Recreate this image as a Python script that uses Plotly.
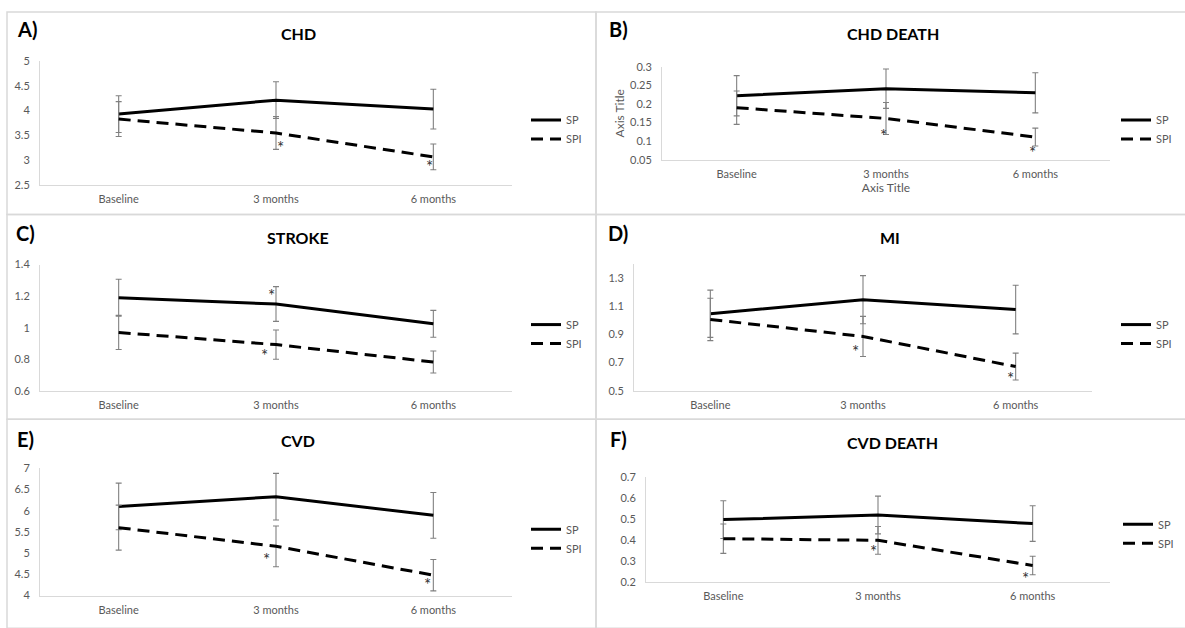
import plotly.graph_objects as go

W, H = 1185, 628

categories = ["Baseline", "3 months", "6 months"]

# Panel titles and letters
panel_letters = ["A)", "B)", "C)", "D)", "E)", "F)"]
panel_titles = ["CHD", "CHD DEATH", "STROKE", "MI", "CVD", "CVD DEATH"]

# Series values (SP solid, SPI dashed) and symmetric error sizes
chd_sp = [3.93, 4.21, 4.03]
chd_sp_err = [0.37, 0.37, 0.40]
chd_spi = [3.83, 3.55, 3.07]
chd_spi_err = [0.35, 0.33, 0.26]

chddeath_sp = [0.222, 0.241, 0.230]
chddeath_sp_err = [0.054, 0.053, 0.054]
chddeath_spi = [0.190, 0.161, 0.111]
chddeath_spi_err = [0.045, 0.043, 0.024]

stroke_sp = [1.19, 1.15, 1.025]
stroke_sp_err = [0.117, 0.11, 0.085]
stroke_spi = [0.97, 0.893, 0.783]
stroke_spi_err = [0.108, 0.093, 0.07]

mi_sp = [1.045, 1.145, 1.075]
mi_sp_err = [0.167, 0.17, 0.172]
mi_spi = [1.005, 0.885, 0.672]
mi_spi_err = [0.15, 0.142, 0.095]

cvd_sp = [6.10, 6.33, 5.89]
cvd_sp_err = [0.55, 0.55, 0.54]
cvd_spi = [5.60, 5.16, 4.48]
cvd_spi_err = [0.53, 0.48, 0.37]

cvddeath_sp = [0.497, 0.519, 0.478]
cvddeath_sp_err = [0.09, 0.09, 0.085]
cvddeath_spi = [0.406, 0.398, 0.278]
cvddeath_spi_err = [0.07, 0.066, 0.044]

# y-axis ranges / tick steps
y_ranges = [[2.5, 5], [0.05, 0.3], [0.6, 1.4], [0.5, 1.4], [4, 7], [0.2, 0.7]]
y_tick0 = [2.5, 0.05, 0.6, 0.5, 4, 0.2]
y_dtick = [0.5, 0.05, 0.2, 0.2, 0.5, 0.1]

# significance asterisks: (category index, y value, horizontal offset px)
stars = [
    [(1, 3.33, 4), (2, 2.95, -4)],
    [(1, 0.127, -3), (2, 0.08, -3)],
    [(1, 1.23, -5), (1, 0.85, -12)],
    [(1, 0.81, -8), (2, 0.615, -5)],
    [(1, 4.95, -10), (2, 4.35, -6)],
    [(1, 0.365, -5), (2, 0.236, -7)],
]

series = [
    (chd_sp, chd_sp_err, chd_spi, chd_spi_err),
    (chddeath_sp, chddeath_sp_err, chddeath_spi, chddeath_spi_err),
    (stroke_sp, stroke_sp_err, stroke_spi, stroke_spi_err),
    (mi_sp, mi_sp_err, mi_spi, mi_spi_err),
    (cvd_sp, cvd_sp_err, cvd_spi, cvd_spi_err),
    (cvddeath_sp, cvddeath_sp_err, cvddeath_spi, cvddeath_spi_err),
]

# ---------------- layout geometry (pixels) ----------------
plot_boxes = [  # x0, x1, ytop, ybottom
    (40, 512, 55, 182),
    (662, 1110, 61, 156),
    (40, 512, 263, 392),
    (634, 1092, 262, 392),
    (40, 512, 471, 601),
    (646, 1110, 480, 587),
]
title_pos = [(298, 27), (893, 27), (298, 235), (890, 235), (298, 443), (893, 445)]
letter_pos = [(27, 22), (618, 22), (25, 231), (618, 231), (25, 441), (618, 441)]
legend_pos = [(526, 125), (1116, 125), (526, 334), (1116, 334), (526, 543), (1118, 538)]

FONT = "Lato, Carlito, Calibri, sans-serif"
GRAY = "#595959"
AXIS = "#d9d9d9"
ERR = "#808080"

fig = go.Figure()
layout = dict(
    width=W, height=H,
    margin=dict(l=0, r=0, t=0, b=0),
    paper_bgcolor="white", plot_bgcolor="white",
    font=dict(family=FONT, color=GRAY, size=11),
    showlegend=True,
)

annotations = []
shapes = []

for i in range(6):
    n = "" if i == 0 else str(i + 1)
    xa, ya = "x" + n, "y" + n
    sp, sperr, spi, spierr = series[i]
    lg = "legend" + ("" if i == 0 else str(i + 1))
    fig.add_trace(go.Scatter(
        x=categories, y=sp, mode="lines", name="SP",
        line=dict(color="black", width=3),
        error_y=dict(type="data", array=sperr, visible=True, color=ERR, thickness=1.1, width=3),
        xaxis=xa, yaxis=ya, legend=lg,
    ))
    fig.add_trace(go.Scatter(
        x=categories, y=spi, mode="lines", name="SPI",
        line=dict(color="black", width=3, dash="12px,7px"),
        error_y=dict(type="data", array=spierr, visible=True, color=ERR, thickness=1.1, width=3),
        xaxis=xa, yaxis=ya, legend=lg,
    ))
    x0, x1, yt, yb = plot_boxes[i]
    layout["xaxis" + n] = dict(
        domain=[x0 / W, x1 / W], anchor=ya, type="category",
        range=[-0.5, 2.5], showline=True, linecolor=AXIS, linewidth=1,
        showgrid=False, zeroline=False, ticks="", tickfont=dict(size=11, color=GRAY),
        ticklabelstandoff=4, fixedrange=True,
    )
    layout["yaxis" + n] = dict(
        domain=[1 - yb / H, 1 - yt / H], anchor=xa,
        range=y_ranges[i], tick0=y_tick0[i], dtick=y_dtick[i],
        showline=True, linecolor=AXIS, linewidth=1,
        showgrid=False, zeroline=False, ticks="", tickfont=dict(size=11, color=GRAY),
        ticklabelstandoff=7, fixedrange=True,
    )
    lx, ly = legend_pos[i]
    layout[lg] = dict(
        x=lx / W, y=1 - ly / H, xanchor="left", yanchor="middle",
        xref="paper", yref="paper", bgcolor="rgba(0,0,0,0)", borderwidth=0,
        font=dict(size=11, color=GRAY, family=FONT), itemwidth=30,
        tracegroupgap=0,
    )
    tx, ty = title_pos[i]
    annotations.append(dict(
        text="<b>%s</b>" % panel_titles[i], x=tx / W, y=1 - ty / H,
        xref="paper", yref="paper", showarrow=False,
        xanchor="center", yanchor="middle",
        font=dict(size=16, color="black", family=FONT),
    ))
    ltx, lty = letter_pos[i]
    annotations.append(dict(
        text="<b>%s</b>" % panel_letters[i], x=ltx / W, y=1 - lty / H,
        xref="paper", yref="paper", showarrow=False,
        xanchor="center", yanchor="middle",
        font=dict(size=20, color="black", family=FONT),
    ))
    for (ci, yv, dx) in stars[i]:
        annotations.append(dict(
            text="*", x=categories[ci], y=yv, xref=xa, yref=ya,
            showarrow=False, xshift=dx, yshift=-4,
            xanchor="center", yanchor="middle",
            font=dict(size=17, color="#333333", family=FONT),
        ))

# panel "Axis Title" placeholders on B
layout["xaxis2"]["title"] = dict(text="Axis Title", font=dict(size=12, color=GRAY), standoff=2)
layout["yaxis2"]["title"] = dict(text="Axis Title", font=dict(size=12, color=GRAY), standoff=2)

# panel borders
border = dict(color=AXIS, width=1.5)
xs = [7 / W, 596 / W, 1.01]
ys = [1 - 5 / H, 1 - 212 / H, 1 - 421 / H, -0.01]
for r in range(3):
    for c in range(2):
        shapes.append(dict(type="rect", xref="paper", yref="paper",
                           x0=xs[c], x1=xs[c + 1], y0=ys[r + 1], y1=ys[r],
                           line=border, fillcolor="rgba(0,0,0,0)", layer="below"))

layout["annotations"] = annotations
layout["shapes"] = shapes
fig.update_layout(**layout)
fig.write_html(
    "out.html",
    config={"displayModeBar": False},
    post_script="document.body.style.margin='0';document.body.style.overflow='hidden';",
)
